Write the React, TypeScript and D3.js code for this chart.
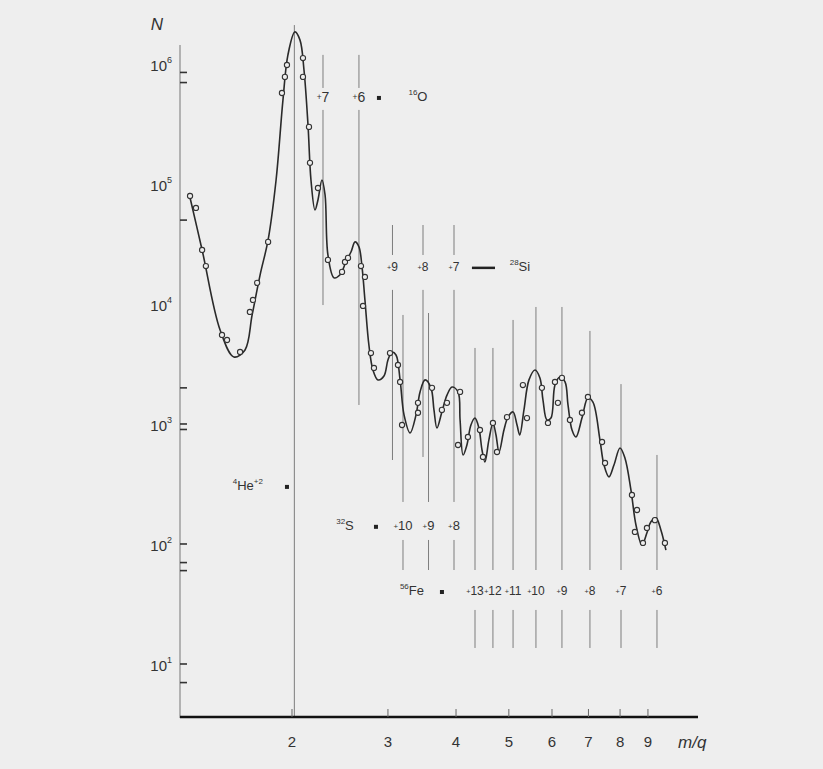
import React from 'react';
import * as d3 from 'd3';

const W = 823;
const H = 769;

// smooth fitted curve: m/q and counts N
const curveMQ = [1.294, 1.368, 1.476, 1.565, 1.64, 1.69, 1.748, 1.808, 1.87, 1.925, 1.966, 2.025, 2.069, 2.104, 2.14, 2.167, 2.204, 2.232, 2.27, 2.3, 2.328, 2.389, 2.45, 2.512, 2.566, 2.611, 2.654, 2.689, 2.722, 2.768, 2.816, 2.876, 2.95, 3.0, 3.052, 3.104, 3.158, 3.211, 3.294, 3.378, 3.436, 3.509, 3.598, 3.644, 3.69, 3.768, 3.85, 3.933, 4.034, 4.069, 4.121, 4.188, 4.26, 4.334, 4.406, 4.464, 4.519, 4.596, 4.675, 4.736, 4.797, 4.898, 4.982, 5.09, 5.176, 5.236, 5.33, 5.444, 5.584, 5.702, 5.776, 5.874, 5.974, 6.076, 6.204, 6.34, 6.42, 6.53, 6.64, 6.81, 6.984, 7.134, 7.348, 7.474, 7.634, 7.796, 7.998, 8.166, 8.376, 8.556, 8.776, 8.962, 9.114, 9.31, 9.506, 9.71];
const curveN = [8.41e4, 2.82e4, 6.07e3, 3.62e3, 4.14e3, 8.1e3, 1.75e4, 3.42e4, 1.08e5, 5.0e5, 1.19e6, 1.85e6, 1.58e6, 8.9e5, 3.1e5, 1.08e5, 6.07e4, 7.36e4, 1.08e5, 8.1e4, 2.56e4, 1.65e4, 1.75e4, 2.24e4, 2.71e4, 3.29e4, 2.99e4, 2.03e4, 1.08e4, 4.55e3, 2.82e3, 2.33e3, 2.51e3, 3.41e3, 3.98e3, 3.76e3, 2.33e3, 1.19e3, 841, 1.19e3, 1.85e3, 2.33e3, 2.0e3, 1.31e3, 926, 1.26e3, 1.74e3, 2.03e3, 1.85e3, 1.08e3, 552, 668, 981, 1.12e3, 926, 607, 482, 736, 1.02e3, 810, 584, 891, 1.14e3, 1.26e3, 981, 810, 1.31e3, 2.33e3, 2.82e3, 2.42e3, 1.58e3, 1.08e3, 1.12e3, 2.11e3, 2.46e3, 2.24e3, 1.44e3, 891, 779, 1.12e3, 1.65e3, 1.52e3, 736, 455, 362, 455, 631, 521, 282, 144, 98, 124, 153, 165, 131, 89];

// measured points (open circles)
const obsMQ = [1.3, 1.333, 1.368, 1.39, 1.488, 1.52, 1.606, 1.674, 1.696, 1.726, 1.808, 1.917, 1.941, 1.958, 2.095, 2.095, 2.149, 2.158, 2.232, 2.328, 2.471, 2.502, 2.534, 2.677, 2.722, 2.7, 2.792, 2.828, 3.026, 3.13, 3.158, 3.184, 3.406, 3.406, 3.614, 3.768, 3.85, 4.069, 4.034, 4.206, 4.426, 4.482, 4.675, 4.756, 4.961, 5.306, 5.398, 5.75, 5.899, 6.076, 6.152, 6.258, 6.473, 6.81, 6.984, 7.414, 7.508, 8.412, 8.593, 8.518, 8.813, 8.962, 9.268, 9.67];
const obsN = [7.94e4, 6.31e4, 2.82e4, 2.07e4, 5.52e3, 5.01e3, 3.98e3, 8.58e3, 1.08e4, 1.5e4, 3.29e4, 5.73e5, 7.8e5, 9.8e5, 1.12e6, 7.8e5, 2.99e5, 1.5e5, 9.26e4, 2.33e4, 1.85e4, 2.24e4, 2.42e4, 2.07e4, 1.68e4, 9.63e3, 3.9e3, 2.93e3, 3.9e3, 3.1e3, 2.24e3, 981, 1.5e3, 1.24e3, 2.0e3, 1.31e3, 1.5e3, 1.85e3, 668, 779, 891, 531, 1.02e3, 584, 1.14e3, 2.11e3, 1.12e3, 2.0e3, 1.02e3, 2.24e3, 1.5e3, 2.42e3, 1.08e3, 1.24e3, 1.68e3, 708, 473, 256, 192, 126, 102, 136, 158, 102];

// axes
const xTickValues = [2, 3, 4, 5, 6, 7, 8, 9];
const yLabelValues = [1e1, 1e2, 1e3, 1e4, 1e5, 1e6];
const yLabelExps = ['1', '2', '3', '4', '5', '6'];
const yTickMarks = [8.5e5, 7e5, 5e4, 2e3, 1e3, 9e2, 1e2, 7e1, 6e1, 1e1, 7];

// ion m/q marker lines: [m/q, [Ntop, Nbottom] segments]
const heliumMQ = 2.02;
const heliumSegs: [number, number][] = [[2.11e6, 3.55]];

const oxygenCharges = ['7', '6'];
const oxygenMQ = [2.28, 2.654];
const oxygenSegs: [number, number][][] = [
  [[1.19e6, 6.31e5], [4.14e5, 9.8e3]],
  [[1.19e6, 6.31e5], [4.14e5, 1.44e3]],
];

const siliconCharges = ['9', '8', '7'];
const siliconMQ = [3.058, 3.479, 3.966];
const siliconSegs: [number, number][][] = [
  [[4.55e4, 2.56e4], [1.31e4, 501]],
  [[4.55e4, 2.56e4], [1.31e4, 531]],
  [[4.55e4, 2.56e4], [1.31e4, 224]],
];

const sulfurCharges = ['10', '9', '8'];
const sulfurMQ = [3.197, 3.561, 3.966];
const sulfurSegs: [number, number][][] = [
  [[8.1e3, 224], [108, 60.7]],
  [[8.41e3, 224], [108, 60.7]],
  [[108, 60.7]],
];

const ironCharges = ['13', '12', '11', '10', '9', '8', '7', '6'];
const ironMQ = [4.334, 4.675, 5.09, 5.607, 6.258, 7.044, 8.032, 9.35];
const ironTops = [4.3e3, 4.3e3, 7.36e3, 9.44e3, 9.44e3, 5.96e3, 2.15e3, 552];

// label rows (N level)
const oxygenRowN = 5.21e5;
const siliconRowN = 2.0e4;
const heliumRowN = 299;
const sulfurRowN = 139;
const ironRowN = 39.8;

const FONT = '"Liberation Sans", Arial, sans-serif';

export default function App() {
  const x = d3.scaleLog().domain([1.246, 11.12]).range([180, 698]);
  const y = d3.scaleLog().domain([3.548, 1.439e6]).range([718, 45]);

  const curvePts: [number, number][] = curveMQ.map((m, i) => [m, curveN[i]]);
  const line = d3
    .line<[number, number]>()
    .x((d) => x(d[0]))
    .y((d) => y(d[1]))
    .curve(d3.curveCatmullRom.alpha(0.5));

  const vline = (mq: number, segs: [number, number][], key: string) =>
    segs.map((s, i) => (
      <line
        key={key + i}
        x1={x(mq)}
        x2={x(mq)}
        y1={y(s[0])}
        y2={y(s[1])}
        stroke="#7d7d7d"
        strokeWidth={1}
      />
    ));

  const ironSegs: [number, number][][] = ironTops.map((t) => [
    [t, 60.7],
    [28.2, 13.6],
  ]);

  const chargeLabel = (mq: number, n: number, txt: string, key: string, size = 13) => (
    <text
      key={key}
      x={x(mq)}
      y={y(n)}
      textAnchor="middle"
      dominantBaseline="middle"
      fontSize={size}
      fill="#333"
      fontFamily={FONT}
    >
      <tspan fontSize={size * 0.6}>+</tspan>
      {txt}
    </text>
  );

  const isoLabel = (mq: number, n: number, mass: string, el: string, key: string, charge?: string) => (
    <text
      key={key}
      x={x(mq)}
      y={y(n)}
      textAnchor="middle"
      dominantBaseline="middle"
      fontSize={13}
      fill="#333"
      fontFamily={FONT}
    >
      <tspan fontSize={8} dy={-5}>{mass}</tspan>
      <tspan dy={5}>{el}</tspan>
      {charge ? <tspan fontSize={8} dy={-5}>{charge}</tspan> : null}
    </text>
  );

  const dot = (mq: number, n: number, key: string) => (
    <rect key={key} x={x(mq) - 2} y={y(n) - 2} width={4} height={4} fill="#222" />
  );

  return (
    <svg
      width={W}
      height={H}
      style={{ position: 'absolute', left: 0, top: 0 }}
      xmlns="http://www.w3.org/2000/svg"
    >
      <rect x={0} y={0} width={W} height={H} fill="#eeeeee" />

      {/* ion marker lines */}
      {vline(heliumMQ, heliumSegs, 'he')}
      {oxygenMQ.map((m, i) => vline(m, oxygenSegs[i], 'o' + i))}
      {siliconMQ.map((m, i) => vline(m, siliconSegs[i], 'si' + i))}
      {sulfurMQ.map((m, i) => vline(m, sulfurSegs[i], 's' + i))}
      {ironMQ.map((m, i) => vline(m, ironSegs[i], 'fe' + i))}

      {/* y axis */}
      <line x1={180} x2={180} y1={y(1.439e6)} y2={y(3.548)} stroke="#777" strokeWidth={1} />
      {yTickMarks.map((v, i) => (
        <line
          key={'yt' + i}
          x1={180}
          x2={187}
          y1={y(v)}
          y2={y(v)}
          stroke="#333"
          strokeWidth={1.6}
        />
      ))}
      {yLabelValues.map((v, i) => (
        <text
          key={'yl' + i}
          x={172}
          y={y(v) + 3}
          textAnchor="end"
          dominantBaseline="middle"
          fontSize={15}
          fill="#333"
          fontFamily={FONT}
        >
          10
          <tspan fontSize={9} dy={-6}>
            {yLabelExps[i]}
          </tspan>
        </text>
      ))}
      <text x={157} y={30} fontSize={17} fontStyle="italic" fill="#333" fontFamily={FONT} textAnchor="middle">
        N
      </text>

      {/* x axis */}
      <line x1={180} x2={698} y1={717} y2={717} stroke="#111" strokeWidth={2.5} />
      {xTickValues.map((v) => (
        <line key={'xt' + v} x1={x(v)} x2={x(v)} y1={717} y2={709} stroke="#666" strokeWidth={1} />
      ))}
      {xTickValues.map((v) => (
        <text
          key={'xl' + v}
          x={x(v)}
          y={743}
          textAnchor="middle"
          dominantBaseline="middle"
          fontSize={15}
          fill="#333"
          fontFamily={FONT}
        >
          {v}
        </text>
      ))}
      <text x={678} y={748} fontSize={17} fontStyle="italic" fill="#333" fontFamily={FONT}>
        m/q
      </text>

      {/* fitted curve */}
      <path d={line(curvePts) || ''} fill="none" stroke="#2a2a2a" strokeWidth={1.6} />

      {/* observations */}
      {obsMQ.map((m, i) => (
        <circle
          key={'c' + i}
          cx={x(m)}
          cy={y(obsN[i])}
          r={2.6}
          fill="#eeeeee"
          stroke="#333"
          strokeWidth={1.1}
        />
      ))}

      {/* labels: oxygen */}
      {oxygenCharges.map((c, i) => chargeLabel(oxygenMQ[i], oxygenRowN, c, 'ol' + i, 14))}
      {dot(2.888, oxygenRowN, 'odot')}
      {isoLabel(3.406, oxygenRowN, '16', 'O', 'oiso')}

      {/* silicon */}
      {siliconCharges.map((c, i) => chargeLabel(siliconMQ[i], siliconRowN, c, 'sil' + i, 12))}
      <line x1={x(4.278)} x2={x(4.716)} y1={y(siliconRowN)} y2={y(siliconRowN)} stroke="#222" strokeWidth={2.5} />
      {isoLabel(5.24, siliconRowN, '28', 'Si', 'siiso')}

      {/* helium */}
      {isoLabel(1.66, heliumRowN, '4', 'He', 'heiso', '+2')}
      {dot(1.958, heliumRowN, 'hedot')}

      {/* sulfur */}
      {isoLabel(2.502, sulfurRowN, '32', 'S', 'siso')}
      {dot(2.852, sulfurRowN, 'sdot')}
      {sulfurCharges.map((c, i) => chargeLabel(sulfurMQ[i], sulfurRowN, c, 'sl' + i, 13))}

      {/* iron */}
      {isoLabel(3.32, ironRowN, '56', 'Fe', 'feiso')}
      {dot(3.769, ironRowN, 'fedot')}
      {ironCharges.map((c, i) => chargeLabel(ironMQ[i], ironRowN, c, 'fel' + i, 12))}
    </svg>
  );
}
